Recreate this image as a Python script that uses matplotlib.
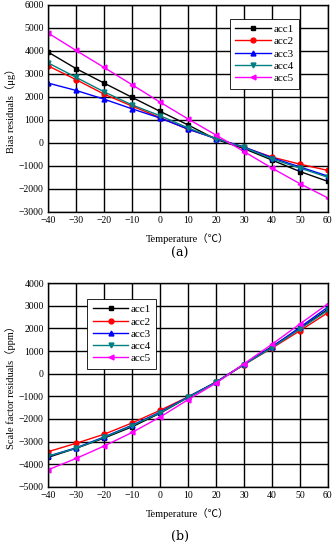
import matplotlib.pyplot as plt

# ---- data ----
temps = [-40, -30, -20, -10, 0, 10, 20, 30, 40, 50, 60]
names = ["acc1", "acc2", "acc3", "acc4", "acc5"]

bias_acc1 = [3950, 3230, 2600, 1980, 1370, 780, 150, -250, -750, -1250, -1680]
bias_acc2 = [3350, 2750, 2120, 1600, 1100, 590, 200, -200, -620, -930, -1200]
bias_acc3 = [2600, 2280, 1900, 1480, 1080, 600, 180, -180, -650, -1050, -1450]
bias_acc4 = [3480, 2850, 2220, 1650, 1180, 650, 180, -200, -700, -1100, -1500]
bias_acc5 = [4780, 4020, 3280, 2530, 1770, 1040, 340, -380, -1100, -1780, -2400]

sf_acc1 = [-3700, -3300, -2850, -2350, -1750, -1050, -380, 400, 1200, 2000, 2850]
sf_acc2 = [-3450, -3080, -2680, -2180, -1620, -1030, -380, 400, 1130, 1900, 2700]
sf_acc3 = [-3650, -3280, -2800, -2280, -1700, -1030, -370, 420, 1180, 2050, 2950]
sf_acc4 = [-3650, -3300, -2820, -2300, -1730, -1050, -380, 400, 1150, 1980, 2800]
sf_acc5 = [-4250, -3750, -3200, -2600, -1920, -1150, -420, 440, 1300, 2200, 3090]

colors = ["black", "red", "blue", "#008080", "magenta"]
markers = ["s", "o", "^", "v", "<"]

plt.rcParams["font.family"] = ["Liberation Serif", "Noto Sans CJK SC"]

fig = plt.figure(figsize=(3.36, 5.5), dpi=100)
ax1 = fig.add_axes([0.143, 0.615, 0.833, 0.376])
ax2 = fig.add_axes([0.143, 0.115, 0.833, 0.370])


def draw(ax, series, ylim, yticks, ylabel, legend_loc):
    for name, vals, c, m in zip(names, series, colors, markers):
        ax.plot(temps, vals, color=c, marker=m, markersize=3.5, linewidth=1.0,
                label=name)
    ax.set_xlim(-40, 60)
    ax.set_ylim(*ylim)
    ax.set_xticks(range(-40, 61, 10))
    ax.set_yticks(yticks)
    ax.grid(True, color="black", linewidth=1.0)
    ax.tick_params(labelsize=7, direction="in", length=0, pad=3)
    for s in ax.spines.values():
        s.set_linewidth(1.0)
    ax.set_xlabel("Temperature（℃）", fontsize=7.5, labelpad=6)
    ax.set_ylabel(ylabel, fontsize=7.5, labelpad=2)
    leg = ax.legend(loc="upper left", bbox_to_anchor=legend_loc, fontsize=8,
                    handlelength=3.2, handletextpad=0.2, labelspacing=0.22,
                    borderpad=0.5, fancybox=False, framealpha=1,
                    edgecolor="black")
    leg.get_frame().set_linewidth(0.6)


draw(ax1, [bias_acc1, bias_acc2, bias_acc3, bias_acc4, bias_acc5],
     (-3000, 6000), range(-3000, 6001, 1000), "Bias residuals（μg）",
     (0.63, 0.96))
draw(ax2, [sf_acc1, sf_acc2, sf_acc3, sf_acc4, sf_acc5],
     (-5000, 4000), range(-5000, 4001, 1000), "Scale factor residuals（ppm）",
     (0.12, 0.95))

fig.text(0.536, 0.54, "(a)", ha="center", va="center", fontsize=9,
         family="DejaVu Serif")
fig.text(0.536, 0.024, "(b)", ha="center", va="center", fontsize=9,
         family="DejaVu Serif")

fig.savefig("out.png", dpi=100)
